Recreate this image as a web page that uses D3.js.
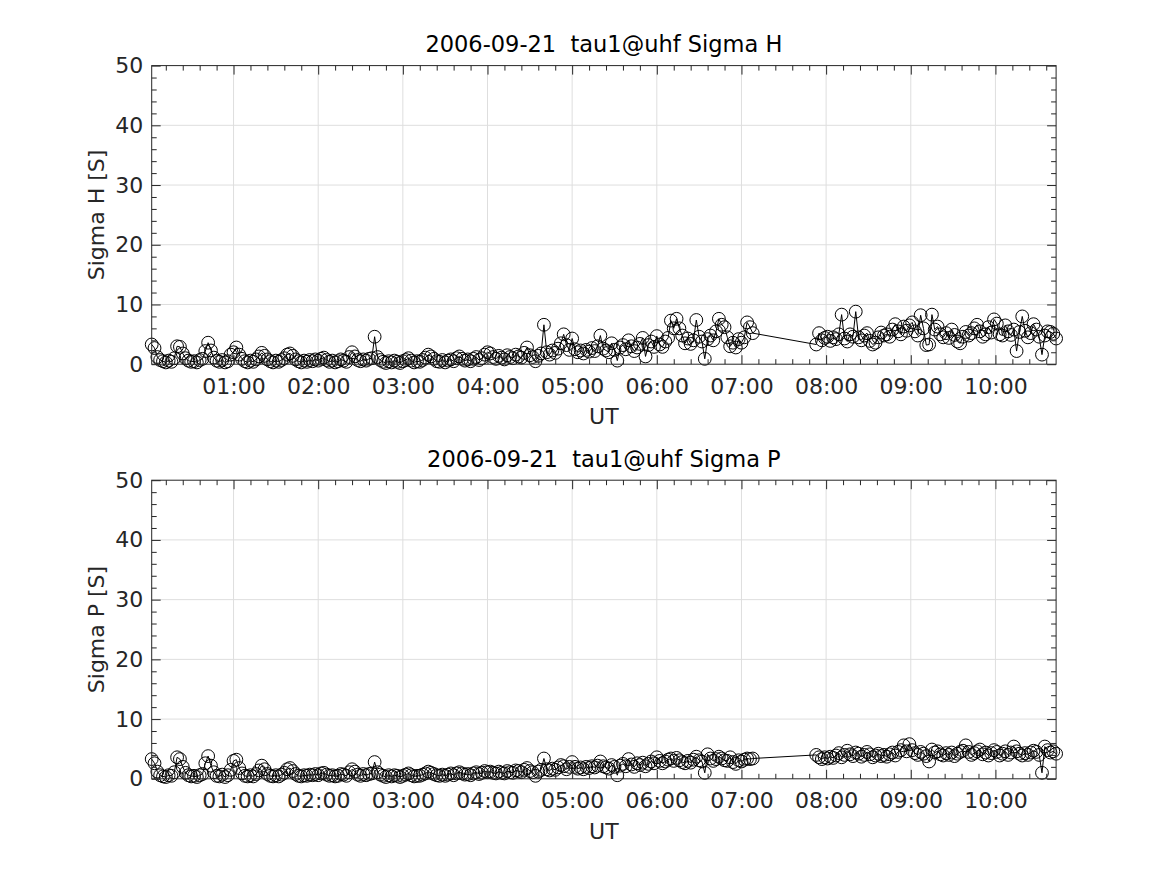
<!DOCTYPE html>
<html>
<head>
<meta charset="utf-8">
<script src="https://cdn.jsdelivr.net/npm/d3@7"></script>
<style>
	body { margin: 0; background: #fff; }
	svg, svg text { font-family: "DejaVu Sans", sans-serif; }
</style>
</head>
<body>
<svg id="fig"></svg>
<script>
var dateLabel = "2006-09-21"
var expLabel = "tau1@uhf"
var hourTicks = [60, 120, 180, 240, 300, 360, 420, 480, 540, 600]
var hourLabels = ["01:00", "02:00", "03:00", "04:00", "05:00", "06:00", "07:00", "08:00", "09:00", "10:00"]
var yTicks = [0, 10, 20, 30, 40, 50]

// 2 min integrations; first block starts 00:02, second block (after gap) starts 07:53
var stepMin = 2
var seg1Start = 2
var seg2Start = 473

var sigmaH1 = [
	3.3, 2.7, 1.2, 0.7, 0.5, 0.3, 0.6, 0.4, 1.0, 3.0, 2.9, 1.8, 1.0, 0.6, 0.4, 0.5, 0.3, 0.7, 0.9, 2.2, 3.6, 2.3, 1.1, 0.6, 0.4, 0.7, 0.3, 0.5, 1.6, 2.0,
	2.8, 1.6, 0.9, 0.5, 0.3, 0.6, 0.4, 0.8, 1.3, 1.9, 1.4, 0.8, 0.5, 0.3, 0.6, 0.4, 0.7, 1.0, 1.6, 1.8, 1.4, 0.8, 0.5, 0.3, 0.6, 0.4, 0.7, 0.5, 0.8, 0.6,
	0.9, 1.1, 0.7, 0.4, 0.6, 0.3, 0.5, 0.8, 0.6, 0.4, 1.2, 2.0, 1.3, 0.7, 0.5, 0.8, 0.6, 0.9, 1.0, 4.6, 1.2, 0.7, 0.4, 0.2, 0.5, 0.3, 0.6, 0.4, 0.2, 0.5,
	0.7, 1.0, 0.6, 0.3, 0.5, 0.4, 0.7, 1.1, 1.6, 1.3, 0.9, 0.5, 0.4, 0.7, 0.3, 0.6, 0.8, 0.5, 1.0, 1.3, 0.9, 0.6, 0.8, 0.5, 0.9, 1.2, 0.7, 1.0, 1.6, 2.0,
	1.8, 1.2, 0.9, 1.4, 1.1, 0.8, 1.5, 1.2, 1.0, 1.6, 1.3, 1.1, 1.9, 2.8, 1.5, 1.2, 0.5, 1.4, 1.8, 6.6, 2.0, 1.6, 2.3, 1.9, 2.6, 3.5, 5.0, 3.2, 2.4, 4.3,
	2.5, 2.0, 2.3, 1.8, 2.4, 2.1, 2.7, 2.2, 3.0, 4.8, 2.6, 2.3, 2.0, 3.5, 2.4, 0.6, 2.8, 3.2, 2.5, 4.0, 3.0, 2.2, 2.8, 3.4, 4.4, 1.3, 3.2, 3.8, 2.9, 4.7,
	3.3, 2.9, 3.8, 4.4, 7.3, 6.0, 7.6, 6.0, 4.8, 3.5, 4.3, 3.4, 4.0, 7.4, 4.6, 3.8, 0.9, 4.2, 4.8, 4.0, 5.5, 7.6, 6.6, 6.2, 4.5, 3.0, 3.6, 2.8, 4.2, 3.6,
	4.5, 7.0, 6.2, 5.2
]
var sigmaH2 = [
	3.3, 5.2, 4.0, 4.4,
	4.6, 3.9, 4.5, 4.2, 5.0, 8.3, 4.3, 3.8, 5.0, 4.6, 8.8, 4.5, 4.0, 4.8, 5.2, 3.9, 3.3, 3.6, 4.5, 5.3, 4.8, 5.0, 4.6, 5.8, 6.7, 5.5, 5.0, 6.3, 5.6, 6.5,
	7.0, 5.5, 4.8, 8.2, 6.0, 3.2, 3.3, 8.3, 5.8, 6.3, 5.0, 4.5, 5.2, 4.4, 5.8, 4.9, 3.8, 3.5, 4.6, 5.4, 4.8, 5.2, 6.0, 6.6, 5.5, 4.6, 5.0, 6.2, 5.3, 7.5,
	6.8, 5.0, 4.8, 6.5, 5.5, 4.9, 5.8, 2.2, 5.4, 8.0, 5.6, 4.5, 5.2, 6.7, 5.8, 4.6, 1.6, 4.8, 5.5, 5.4, 5.1, 4.3
]
var sigmaP1 = [
	3.3, 2.6, 1.2, 0.6, 0.4, 0.3, 0.6, 0.5, 1.1, 3.6, 3.3, 2.0, 1.0, 0.6, 0.4, 0.5, 0.3, 0.6, 0.8, 2.6, 3.8, 2.2, 1.1, 0.5, 0.4, 0.7, 0.3, 0.6, 1.5, 3.0,
	3.2, 1.8, 0.9, 0.5, 0.4, 0.6, 0.4, 0.8, 1.4, 2.2, 1.6, 0.8, 0.5, 0.4, 0.6, 0.4, 0.7, 1.0, 1.6, 1.8, 1.3, 0.8, 0.5, 0.4, 0.6, 0.5, 0.7, 0.6, 0.8, 0.6,
	0.9, 1.0, 0.7, 0.5, 0.6, 0.4, 0.5, 0.8, 0.7, 0.5, 1.1, 1.6, 1.2, 0.7, 0.5, 0.8, 0.6, 0.8, 0.9, 2.8, 1.1, 0.7, 0.5, 0.3, 0.6, 0.4, 0.6, 0.5, 0.3, 0.5,
	0.7, 0.9, 0.6, 0.4, 0.5, 0.5, 0.7, 0.9, 1.2, 1.0, 0.8, 0.6, 0.5, 0.7, 0.5, 0.7, 0.9, 0.6, 0.9, 1.1, 0.9, 0.7, 0.8, 0.6, 0.9, 1.1, 0.8, 1.0, 1.3, 1.1,
	1.2, 1.0, 0.9, 1.2, 1.0, 0.9, 1.3, 1.1, 1.0, 1.4, 1.3, 1.1, 1.5, 1.8, 1.3, 1.1, 0.5, 1.2, 1.5, 3.4, 1.6, 1.4, 1.7, 1.5, 1.9, 2.3, 2.1, 1.6, 2.0, 2.8,
	2.0, 1.7, 1.9, 1.6, 2.0, 1.8, 2.1, 1.9, 2.2, 2.9, 2.1, 1.9, 1.7, 2.3, 2.0, 0.6, 2.2, 2.5, 2.1, 3.3, 2.4, 2.0, 2.6, 2.3, 2.7, 2.1, 2.5, 2.9, 2.6, 3.6,
	3.0, 2.6, 2.9, 3.2, 3.4, 3.0, 3.5, 3.1, 2.8, 2.6, 3.0, 2.7, 3.2, 3.7, 3.1, 2.9, 1.0, 4.1, 3.4, 3.0, 3.3, 3.7, 3.4, 3.1, 3.0, 3.6, 2.8, 2.5, 3.1, 2.9,
	3.2, 3.4, 3.3, 3.4
]
var sigmaP2 = [
	4.0, 3.6, 3.3, 3.6,
	3.4, 3.7, 3.5, 3.9, 4.3, 3.6, 4.0, 4.7, 4.1, 3.8, 4.4, 4.2, 3.7, 4.0, 4.5, 4.1, 3.6, 3.9, 4.2, 3.8, 4.0, 3.7, 4.1, 4.4, 3.9, 4.5, 4.8, 5.6, 4.6, 5.8,
	4.8, 4.3, 4.0, 4.5, 4.2, 3.8, 2.9, 4.9, 4.4, 4.6, 4.1, 3.9, 4.3, 4.0, 4.4, 3.8, 4.2, 4.5, 4.7, 5.6, 4.5, 4.0, 4.3, 4.6, 4.9, 4.1, 4.4, 3.9, 4.3, 4.8,
	4.5, 3.9, 4.2, 4.6, 4.0, 4.4, 5.4, 4.6, 4.2, 3.9, 4.3, 4.0, 4.4, 4.7, 4.5, 4.0, 1.0, 5.4, 4.8, 4.4, 4.6, 4.2
]

function main() {
	var W = 1167, H = 875
	var axCol = "#262626"
	var fontFam = "DejaVu Sans, sans-serif"
	var margin = { left: 151.7, top: 65.6 },
		width = 904.4,
		height = 298.6,
		panelGap = 414.6

	var svg = d3.select("#fig")
		.attr("width", W)
		.attr("height", H)

	var x = d3.scaleLinear()
		.domain([2, 643])
		.range([0, width])

	var y = d3.scaleLinear()
		.domain([0, 50])
		.range([height, 0])

	var minorX = d3.range(12, 643, 12).filter(function (d) { return d % 60 != 0 })
	var minorY = d3.range(0, 51, 2).filter(function (d) { return d % 10 != 0 })

	function toSeries(a, b) {
		var pts = []
		a.forEach(function (v, i) { pts.push({ t: seg1Start + i * stepMin, v: v }) })
		b.forEach(function (v, i) { pts.push({ t: seg2Start + i * stepMin, v: v }) })
		return pts
	}

	function drawPanel(top, data, name) {
		var g = svg.append("g")
			.attr("transform", "translate(" + margin.left + "," + top + ")")
			.attr("font-family", fontFam)

		// grid
		g.append("g").selectAll("line")
			.data(hourTicks)
			.enter().append("line")
			.attr("x1", function (d) { return x(d) })
			.attr("x2", function (d) { return x(d) })
			.attr("y1", 0).attr("y2", height)
			.attr("stroke", "#dedede").attr("stroke-width", 1)
		g.append("g").selectAll("line")
			.data(yTicks.slice(1, -1))
			.enter().append("line")
			.attr("y1", function (d) { return y(d) })
			.attr("y2", function (d) { return y(d) })
			.attr("x1", 0).attr("x2", width)
			.attr("stroke", "#dedede").attr("stroke-width", 1)

		// line + markers
		var valueline = d3.line()
			.x(function (d) { return x(d.t) })
			.y(function (d) { return y(d.v) })

		g.append("path")
			.datum(data)
			.attr("fill", "none")
			.attr("stroke", "#000")
			.attr("stroke-width", 1)
			.attr("d", valueline)

		g.selectAll("circle")
			.data(data)
			.enter().append("circle")
			.attr("cx", function (d) { return x(d.t) })
			.attr("cy", function (d) { return y(d.v) })
			.attr("r", 6.4)
			.attr("fill", "none")
			.attr("stroke", "#000")
			.attr("stroke-width", 1)

		// axes, ticks pointing inwards on all four sides
		g.append("g")
			.attr("transform", "translate(0," + height + ")")
			.call(d3.axisBottom(x).tickValues(hourTicks).tickSize(-9).tickSizeOuter(0).tickPadding(14)
				.tickFormat(function (d, i) { return hourLabels[i] }))
		g.append("g")
			.attr("transform", "translate(0," + height + ")")
			.call(d3.axisBottom(x).tickValues(minorX).tickSize(-5).tickSizeOuter(0).tickFormat(""))
		g.append("g")
			.call(d3.axisTop(x).tickValues(hourTicks).tickSize(-9).tickSizeOuter(0).tickFormat(""))
		g.append("g")
			.call(d3.axisTop(x).tickValues(minorX).tickSize(-5).tickSizeOuter(0).tickFormat(""))

		g.append("g")
			.call(d3.axisLeft(y).tickValues(yTicks).tickSize(-9).tickSizeOuter(0).tickPadding(8.4))
		g.append("g")
			.call(d3.axisLeft(y).tickValues(minorY).tickSize(-5).tickSizeOuter(0).tickFormat(""))
		g.append("g")
			.attr("transform", "translate(" + width + ",0)")
			.call(d3.axisRight(y).tickValues(yTicks).tickSize(-9).tickSizeOuter(0).tickFormat(""))
		g.append("g")
			.attr("transform", "translate(" + width + ",0)")
			.call(d3.axisRight(y).tickValues(minorY).tickSize(-5).tickSizeOuter(0).tickFormat(""))

		g.selectAll(".domain").remove()
		g.selectAll("g").attr("font-family", fontFam)
		g.selectAll(".tick line").attr("stroke", axCol)
		g.selectAll(".tick text")
			.attr("fill", axCol)
			.style("font-family", fontFam)
			.style("font-size", "22px")

		g.append("rect")
			.attr("width", width)
			.attr("height", height)
			.attr("fill", "none")
			.attr("stroke", axCol)
			.attr("stroke-width", 1)

		g.append("text")
			.attr("x", width / 2)
			.attr("y", -13.3)
			.attr("text-anchor", "middle")
			.attr("fill", "#000")
			.style("font-size", "22.5px")
			.style("white-space", "pre")
			.text(dateLabel + "  " + expLabel + " " + name)

		g.append("text")
			.attr("x", width / 2)
			.attr("y", height + 60)
			.attr("text-anchor", "middle")
			.attr("fill", axCol)
			.style("font-size", "22px")
			.text("UT")

		g.append("text")
			.attr("transform", "translate(-47.7," + (height / 2) + ") rotate(-90)")
			.attr("text-anchor", "middle")
			.attr("fill", axCol)
			.style("font-size", "22px")
			.text(name + " [S]")
	}

	drawPanel(margin.top, toSeries(sigmaH1, sigmaH2), "Sigma H")
	drawPanel(margin.top + panelGap, toSeries(sigmaP1, sigmaP2), "Sigma P")
}

main()
</script>
</body>
</html>
